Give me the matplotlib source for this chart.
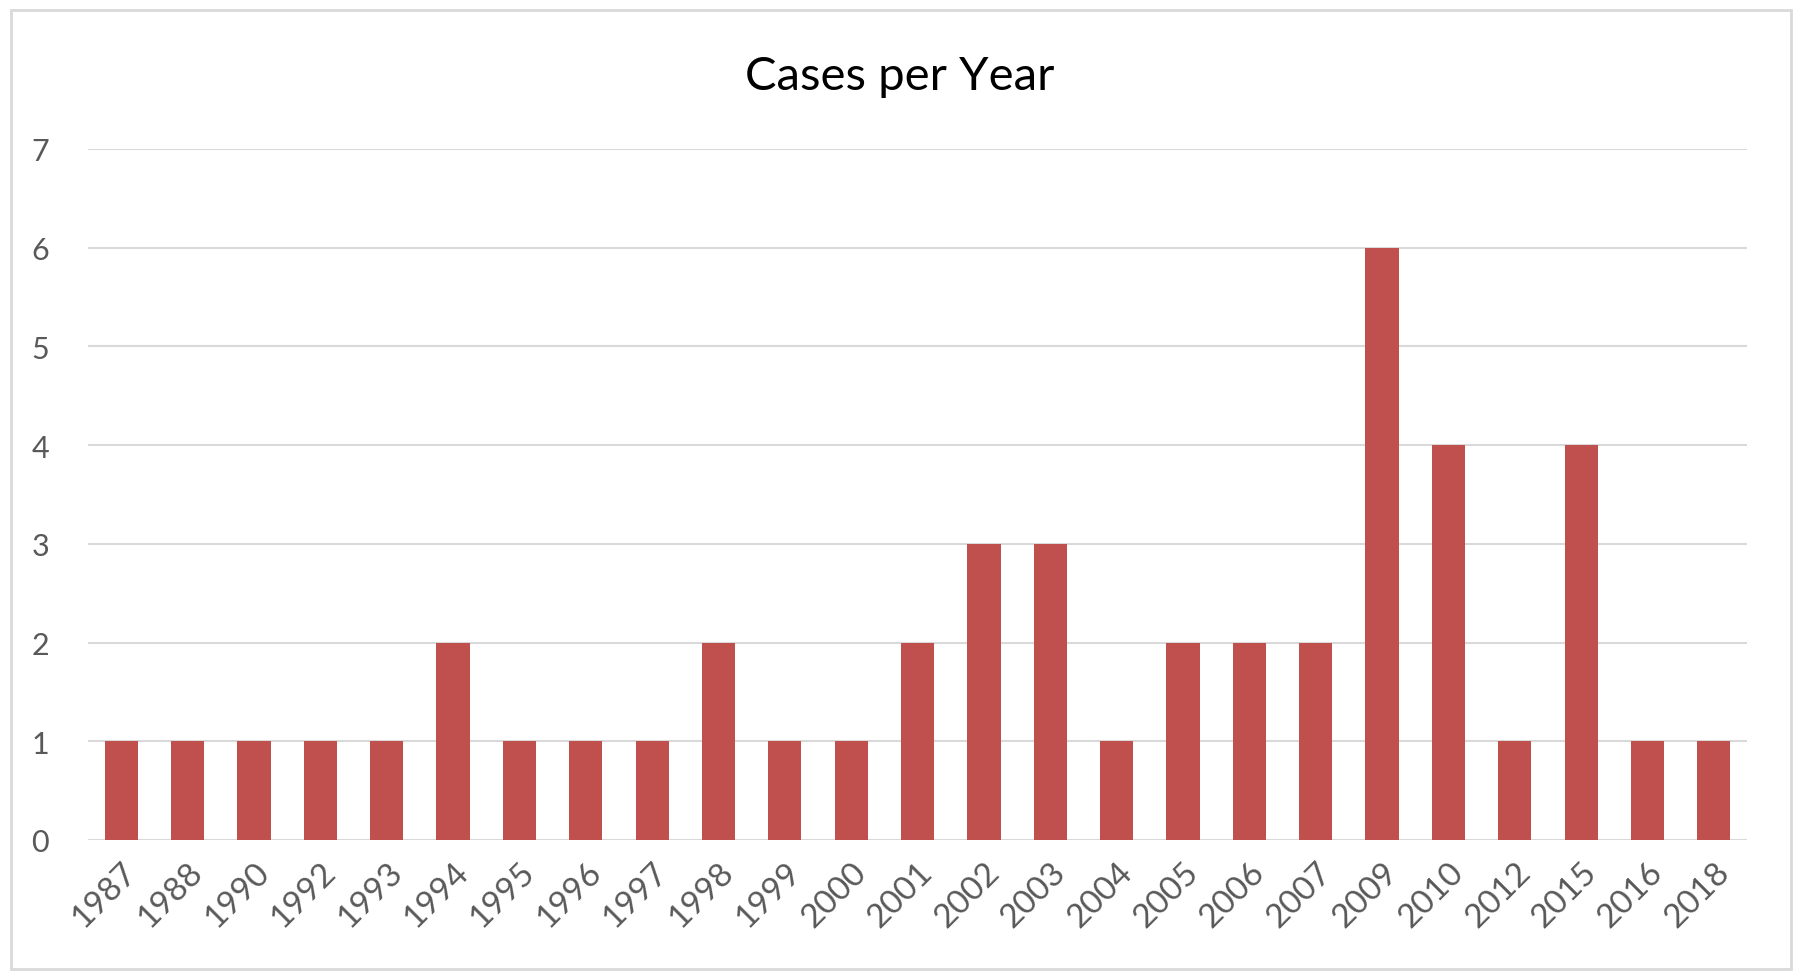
import matplotlib.pyplot as plt
from matplotlib.patches import Rectangle

# data
years = ['1987', '1988', '1990', '1992', '1993', '1994', '1995', '1996', '1997',
         '1998', '1999', '2000', '2001', '2002', '2003', '2004', '2005', '2006',
         '2007', '2009', '2010', '2012', '2015', '2016', '2018']
cases = [1, 1, 1, 1, 1, 2, 1, 1, 1, 2, 1, 1, 2, 3, 3, 1, 2, 2, 2, 6, 4, 1, 4, 1, 1]
y_ticks = [0, 1, 2, 3, 4, 5, 6, 7]

plt.rcParams['font.family'] = ['Lato', 'DejaVu Sans']

fig = plt.figure(figsize=(18, 9.79), dpi=100)
ax = fig.add_axes([0.0489, 0.141, 0.9217, 0.7058])

pos = list(range(len(years)))
ax.bar(pos, cases, width=0.5, color='#C0504D', zorder=3)

ax.set_xlim(-0.5, len(years) - 0.5)
ax.set_ylim(0, 7)
ax.set_yticks(y_ticks)
ax.set_xticks(pos)
ax.set_xticklabels(years, rotation=45, ha='right', va='top', rotation_mode='anchor')
ax.tick_params(axis='both', length=0, colors='#595959', labelsize=22)
ax.tick_params(axis='x', pad=12, labelsize=24)
ax.tick_params(axis='y', pad=28)

ax.grid(axis='y', color='#D9D9D9', linewidth=1.5, zorder=0)
for s in ax.spines.values():
    s.set_visible(False)

fig.text(0.5, 0.921, 'Cases per Year', ha='center', va='center', fontsize=34, color='#000000')

# chart area border
fig.patches.append(Rectangle((11 / 1800, 1 - 970 / 979), 1780 / 1800, 959 / 979,
                             transform=fig.transFigure, fill=False,
                             edgecolor='#D9D9D9', linewidth=2))

fig.savefig('out.png', dpi=100)
